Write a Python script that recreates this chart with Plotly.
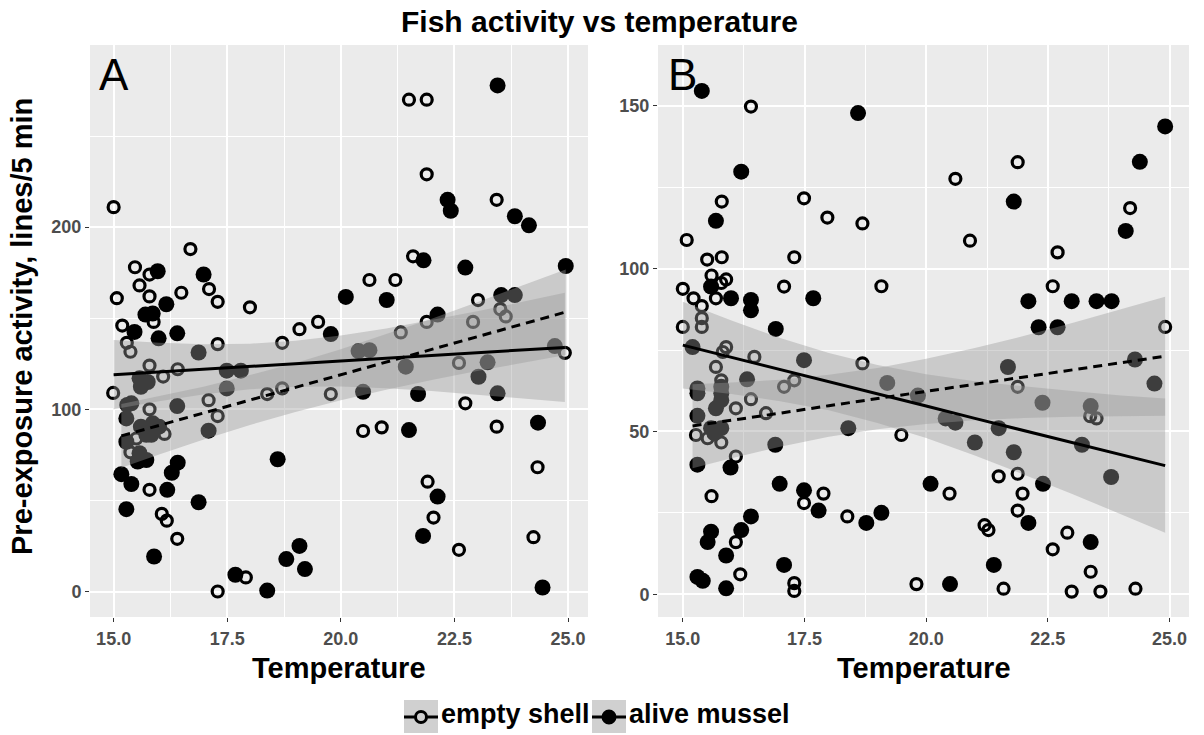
import plotly.graph_objects as go

W, H = 1204, 735

# ---------------- data ----------------
# Panel A: empty shell (open circles)
a_shell_x = [15.00, 16.69, 15.47, 15.79, 15.57, 15.07, 15.79, 16.49, 17.10, 17.29, 18.00, 19.50, 19.09, 15.88, 15.19,
             21.50, 21.89, 21.89, 23.43, 21.59, 20.63, 21.20, 23.02, 23.51, 23.63, 21.89, 22.91, 15.29, 15.37, 17.29,
             18.71, 15.79, 16.41, 16.09, 14.99, 15.79, 17.09, 17.29, 18.38, 18.71, 19.78, 16.12, 15.50, 15.37, 15.79,
             16.06, 16.17, 16.40, 17.29, 17.91, 21.32, 22.60, 24.93, 22.74, 20.49, 20.90, 23.43, 24.33, 21.91, 22.04,
             24.24, 22.60]
a_shell_y = [211, 188, 178, 174, 168, 161, 162, 164, 166, 159, 156, 148, 144, 148, 146,
             270, 270, 229, 215, 184, 171, 171, 160, 155, 151, 148, 148, 136.5, 131.6, 135.8,
             136.5, 124, 122, 118, 109, 100, 105, 96.3, 108.4, 111.5, 108.4, 86.5, 84, 76.4, 55.8,
             42.6, 38.9, 28.9, 0, 7.7, 142.2, 125.5, 131, 103.3, 88.1, 90.1, 90.5, 68.2, 60.3, 40.6,
             29.8, 22.9]
# Panel A: alive mussel (filled circles)
a_alive_x = [15.97, 16.98, 16.16, 15.70, 15.86, 15.46, 16.40, 23.45, 22.35, 22.42, 23.83, 24.14, 21.82, 22.74, 24.95,
             20.11, 21.01, 23.53, 23.83, 22.13, 15.99, 16.87, 17.49, 17.80, 19.78, 15.57, 15.75, 15.60, 17.49, 15.30,
             15.39, 16.40, 15.28, 15.60, 15.86, 16.00, 15.72, 15.83, 17.09, 15.28, 15.57, 15.72, 15.53, 16.41, 16.28,
             15.17, 15.39, 16.18, 16.87, 15.28, 18.61, 15.89, 17.68, 18.38, 18.80, 19.09, 19.21, 20.39, 20.63, 21.43,
             23.23, 23.03, 24.71, 20.49, 21.70, 23.45, 21.50, 24.34, 22.13, 21.81, 24.44]
a_alive_y = [175.8, 174, 157.7, 152, 152.6, 142.5, 141.7, 277.8, 215, 209, 206, 201, 181.8, 177.8, 178.7,
             161.7, 160, 162.7, 162.7, 152, 139, 131.2, 121.2, 121.2, 141.3, 117, 115, 112.4, 111.5, 102.4,
             103.3, 101.8, 95, 90.5, 92.3, 90.5, 86, 86, 88.3, 82.2, 75.9, 72.2, 71.3, 70.7, 65.2,
             64.4, 59, 55.8, 49, 45.2, 72.6, 19.2, 9.2, 0.5, 17.8, 25, 12.3, 132, 132.5, 123.4,
             125.8, 117.9, 134.7, 109.6, 108.4, 108.8, 88.6, 92.7, 52.1, 30.5, 2.2]

# Panel B: empty shell (open circles)
b_shell_x = [16.40, 15.80, 15.08, 15.50, 15.80, 15.59, 15.89, 15.79, 15.00, 15.22, 15.39, 15.68, 15.39, 15.39, 15.00,
             17.29, 17.08, 17.49, 17.97, 18.69, 19.08, 20.60, 21.88, 20.90, 24.19, 22.70, 22.60, 24.91, 15.89, 15.82,
             16.47, 15.68, 15.79, 17.29, 17.08, 18.69, 16.40, 16.09, 16.71, 15.27, 15.51, 15.79, 16.09, 19.49, 15.59,
             17.49, 17.89, 18.38, 16.09, 16.18, 17.29, 17.29, 19.80, 21.88, 23.37, 23.50, 21.49, 21.88, 20.48, 21.98,
             21.88, 21.20, 21.28, 22.90, 22.60, 23.38, 21.59, 22.99, 23.58, 24.30]
b_shell_y = [149.8, 120.6, 108.8, 102.8, 103.5, 97.9, 96.7, 95.6, 93.8, 90.9, 88.5, 90.9, 84.8, 82.1, 82.1,
             103.5, 94.5, 121.6, 115.7, 113.9, 94.6, 127.6, 132.7, 108.6, 118.6, 105, 94.6, 82.1, 75.9, 74.4,
             72.9, 69.8, 65.7, 65.7, 63.7, 70.9, 59.9, 57.1, 55.6, 48.9, 47.9, 46.6, 42.3, 48.9, 30.1,
             28, 30.9, 23.9, 16, 6.1, 3.4, 1, 3.1, 63.7, 54.7, 54, 36.2, 37, 30.9, 30.9,
             25.7, 21.2, 19.7, 18.9, 13.8, 6.9, 1.7, 0.8, 0.8, 1.7]
# Panel B: alive mussel (filled circles)
b_alive_x = [15.39, 18.60, 16.20, 15.68, 17.68, 15.99, 16.40, 16.40, 15.58, 16.91, 24.91, 24.39, 21.80, 24.10, 22.10,
             22.99, 23.50, 23.81, 22.31, 22.70, 15.20, 17.49, 16.32, 15.30, 15.30, 15.79, 15.79, 15.79, 15.68, 15.30,
             15.58, 15.79, 15.65, 19.20, 18.40, 16.90, 15.30, 15.98, 16.99, 17.49, 17.79, 18.77, 19.08, 16.40, 16.20,
             15.58, 15.51, 15.89, 17.08, 15.30, 15.41, 15.89, 21.68, 24.29, 24.69, 19.83, 22.39, 23.38, 20.40, 20.60,
             21.49, 21.00, 21.80, 23.20, 20.09, 22.40, 23.80, 22.10, 23.38, 21.39, 20.49]
b_alive_y = [154.6, 147.8, 129.8, 114.7, 90.9, 90.9, 90.4, 87.2, 94.5, 81.5, 143.7, 132.8, 120.6, 111.6, 90,
             90, 90, 90, 82, 82, 75.9, 71.9, 66, 63.2, 61.7, 63.7, 61.7, 59.6, 57.1, 54.8,
             51, 51, 49.4, 64.9, 51, 45.9, 39.8, 38.9, 33.9, 31.9, 25.7, 21.9, 25, 23.9, 19.7,
             19.2, 16, 11.9, 9, 5.3, 4.1, 1.8, 69.8, 72.1, 64.7, 61, 58.8, 57.8, 54, 52.7,
             51, 46.6, 43.6, 45.9, 33.9, 33.9, 36, 21.9, 16, 9, 3.1]

# Smoothed fits and confidence bands
a_shell_fx = [15.0, 16, 17, 18, 19, 20, 21, 22, 23, 24, 24.93]
a_shell_fy = [119.0, 120.5, 122.0, 123.5, 125.0, 126.5, 128.0, 129.5, 131.0, 132.5, 134.0]
a_shell_lo = [100, 104.5, 108.3, 111, 112.4, 112.5, 111.6, 110.1, 108.2, 106, 104]
a_shell_hi = [138, 136.5, 135.7, 136, 137.6, 140.5, 144.4, 148.9, 153.8, 159, 164]

a_alive_fx = [15.17, 16, 17, 18, 19, 20, 21, 22, 23, 24, 24.95]
a_alive_fy = [85.4, 91.2, 98.1, 105.1, 112.0, 119.0, 126.0, 132.9, 139.9, 146.8, 153.4]
a_alive_lo = [67.9, 75.2, 83.6, 91.4, 98.5, 105, 110.8, 116.1, 121, 125.6, 129.8]
a_alive_hi = [102.9, 107.2, 112.6, 118.8, 125.5, 133, 141.2, 149.7, 158.8, 168, 176.8]

b_shell_fx = [15.0, 16, 17, 18, 19, 20, 21, 22, 23, 24, 24.91]
b_shell_fy = [76.5, 72.8, 69.0, 65.3, 61.5, 57.8, 54.0, 50.3, 46.6, 42.8, 39.5]
b_shell_lo = [63.2, 61.5, 59.3, 56.5, 52.6, 48, 42.6, 36.8, 30.8, 24.6, 18.9]
b_shell_hi = [89.8, 84.1, 78.7, 74.1, 70.4, 67.6, 65.4, 63.8, 62.4, 61, 60.1]

b_alive_fx = [15.2, 16, 17, 18, 19, 20, 21, 22, 23, 24, 24.91]
b_alive_fy = [51.7, 53.4, 55.6, 57.9, 60.1, 62.3, 64.5, 66.7, 68.9, 71.1, 73.1]
b_alive_lo = [38.7, 41.8, 45.3, 48.4, 50.7, 52.3, 53.4, 54.1, 54.5, 54.7, 54.8]
b_alive_hi = [64.5, 65, 65.9, 67.4, 69.5, 72.3, 75.6, 79.3, 83.3, 87.5, 91.4]

x_tickvals = [15, 17.5, 20, 22.5, 25]
x_ticktext = ["15.0", "17.5", "20.0", "22.5", "25.0"]
a_y_tickvals = [0, 100, 200]
b_y_tickvals = [0, 50, 100, 150]

series_names = ["empty shell", "alive mussel"]
title_text = "Fish activity vs temperature"
x_title = "Temperature"
y_title = "Pre-exposure activity, lines/5 min"

# ---------------- styling ----------------
FONT = "Liberation Sans, Arial, sans-serif"
RIBBON = "rgba(153,153,153,0.4)"
fig = go.Figure()


def add_panel(xa, ya, sx, sy, ax, ay, sfx, sfy, slo, shi, afx, afy, alo, ahi):
    fig.add_trace(go.Scatter(x=sx, y=sy, mode="markers", xaxis=xa, yaxis=ya,
                             marker=dict(symbol="circle-open", size=11, color="black", line=dict(width=3.2)),
                             showlegend=False, hoverinfo="skip"))
    fig.add_trace(go.Scatter(x=ax, y=ay, mode="markers", xaxis=xa, yaxis=ya,
                             marker=dict(symbol="circle", size=16, color="black", line=dict(width=0)),
                             showlegend=False, hoverinfo="skip"))
    for fx, lo, hi in [(sfx, slo, shi), (afx, alo, ahi)]:
        fig.add_trace(go.Scatter(x=list(fx) + list(fx)[::-1], y=list(hi) + list(lo)[::-1],
                                 mode="lines", fill="toself", fillcolor=RIBBON, line=dict(width=0),
                                 xaxis=xa, yaxis=ya, showlegend=False, hoverinfo="skip"))
    fig.add_trace(go.Scatter(x=sfx, y=sfy, mode="lines", xaxis=xa, yaxis=ya,
                             line=dict(color="black", width=3), showlegend=False, hoverinfo="skip"))
    fig.add_trace(go.Scatter(x=afx, y=afy, mode="lines", xaxis=xa, yaxis=ya,
                             line=dict(color="black", width=3, dash="9px,6px"), showlegend=False, hoverinfo="skip"))


add_panel("x", "y", a_shell_x, a_shell_y, a_alive_x, a_alive_y,
          a_shell_fx, a_shell_fy, a_shell_lo, a_shell_hi, a_alive_fx, a_alive_fy, a_alive_lo, a_alive_hi)
add_panel("x2", "y2", b_shell_x, b_shell_y, b_alive_x, b_alive_y,
          b_shell_fx, b_shell_fy, b_shell_lo, b_shell_hi, b_alive_fx, b_alive_fy, b_alive_lo, b_alive_hi)

tickfont = dict(family=FONT, size=18, color="#4D4D4D", weight="bold")
dom_y = [1 - 617 / H, 1 - 45 / H]


def xaxis_cfg(dom, rng, anchor):
    return dict(domain=dom, range=rng, anchor=anchor, tickmode="array", tickvals=x_tickvals,
                ticktext=x_ticktext, showgrid=True, gridcolor="white", gridwidth=1.6,
                minor=dict(tickmode="array", tickvals=[16.25, 18.75, 21.25, 23.75], showgrid=True,
                           gridcolor="white", gridwidth=0.8, ticks=""),
                ticks="outside", ticklen=4, tickwidth=1, tickcolor="#333333", zeroline=False,
                showline=False, tickfont=tickfont, ticklabelstandoff=1)


def yaxis_cfg(rng, tv, minor, anchor):
    return dict(domain=dom_y, range=rng, anchor=anchor, tickmode="array", tickvals=tv,
                ticktext=[str(v) for v in tv], showgrid=True, gridcolor="white", gridwidth=1.6,
                minor=dict(tickmode="array", tickvals=minor, showgrid=True, gridcolor="white",
                           gridwidth=0.8, ticks=""),
                ticks="outside", ticklen=4, tickwidth=1, tickcolor="#333333", zeroline=False,
                showline=False, tickfont=tickfont)


fig.update_layout(
    width=W, height=H, margin=dict(l=0, r=0, t=0, b=0),
    paper_bgcolor="white", plot_bgcolor="#EBEBEB", showlegend=False,
    xaxis=xaxis_cfg([90 / W, 588 / W], [14.48, 25.44], "y"),
    yaxis=yaxis_cfg([-14, 300], a_y_tickvals, [50, 150, 250], "x"),
    xaxis2=xaxis_cfg([658 / W, 1189 / W], [14.49, 25.40], "y2"),
    yaxis2=yaxis_cfg([-7, 168.7], b_y_tickvals, [25, 75, 125], "x2"),
)

ann = []
ann.append(dict(text="<b>" + title_text + "</b>", x=599 / W, y=1 - 21 / H, xref="paper", yref="paper",
                showarrow=False, xanchor="center", yanchor="middle",
                font=dict(family=FONT, size=30, color="black")))
ann.append(dict(text="<b>" + y_title + "</b>", x=22 / W, y=1 - 327 / H, xref="paper", yref="paper",
                showarrow=False, textangle=-90, xanchor="center", yanchor="middle",
                font=dict(family=FONT, size=29, color="black")))
for cx in [(90 + 588) / 2, (658 + 1189) / 2]:
    ann.append(dict(text="<b>" + x_title + "</b>", x=cx / W, y=1 - 668 / H, xref="paper", yref="paper",
                    showarrow=False, xanchor="center", yanchor="middle",
                    font=dict(family=FONT, size=29, color="black")))
ann.append(dict(text="A", x=15, y=284, xref="x", yref="y", showarrow=False, xanchor="center",
                yanchor="middle", font=dict(family=FONT, size=44, color="black")))
ann.append(dict(text="B", x=15, y=159.5, xref="x2", yref="y2", showarrow=False, xanchor="center",
                yanchor="middle", font=dict(family=FONT, size=44, color="black")))

# manual legend
shapes = []
key_left = [404, 592]
for i, kx in enumerate(key_left):
    shapes.append(dict(type="rect", xref="paper", yref="paper", x0=kx / W, x1=(kx + 34) / W,
                       y0=1 - 733 / H, y1=1 - 700 / H, fillcolor="#D0D0D0", line=dict(width=0), layer="above"))
    shapes.append(dict(type="line", xref="paper", yref="paper", x0=kx / W, x1=(kx + 34) / W,
                       y0=1 - 717 / H, y1=1 - 717 / H, line=dict(color="black", width=3), layer="above"))
    cx, cy = kx + 17, 717
    if i == 0:
        r = 5.5
        shapes.append(dict(type="circle", xref="paper", yref="paper", x0=(cx - r) / W, x1=(cx + r) / W,
                           y0=1 - (cy + r) / H, y1=1 - (cy - r) / H, fillcolor="#D0D0D0",
                           line=dict(color="black", width=3), layer="above"))
    else:
        r = 7.5
        shapes.append(dict(type="circle", xref="paper", yref="paper", x0=(cx - r) / W, x1=(cx + r) / W,
                           y0=1 - (cy + r) / H, y1=1 - (cy - r) / H, fillcolor="black",
                           line=dict(color="black", width=0), layer="above"))
    ann.append(dict(text="<b>" + series_names[i] + "</b>", x=(kx + 35) / W, y=1 - 714 / H,
                    xref="paper", yref="paper", showarrow=False, xanchor="left", yanchor="middle",
                    font=dict(family=FONT, size=27, color="black")))

fig.update_layout(annotations=ann, shapes=shapes)
fig.write_html("out.html", config={"displayModeBar": False},
               post_script="document.body.style.margin='0px';document.body.style.overflow='hidden';")
